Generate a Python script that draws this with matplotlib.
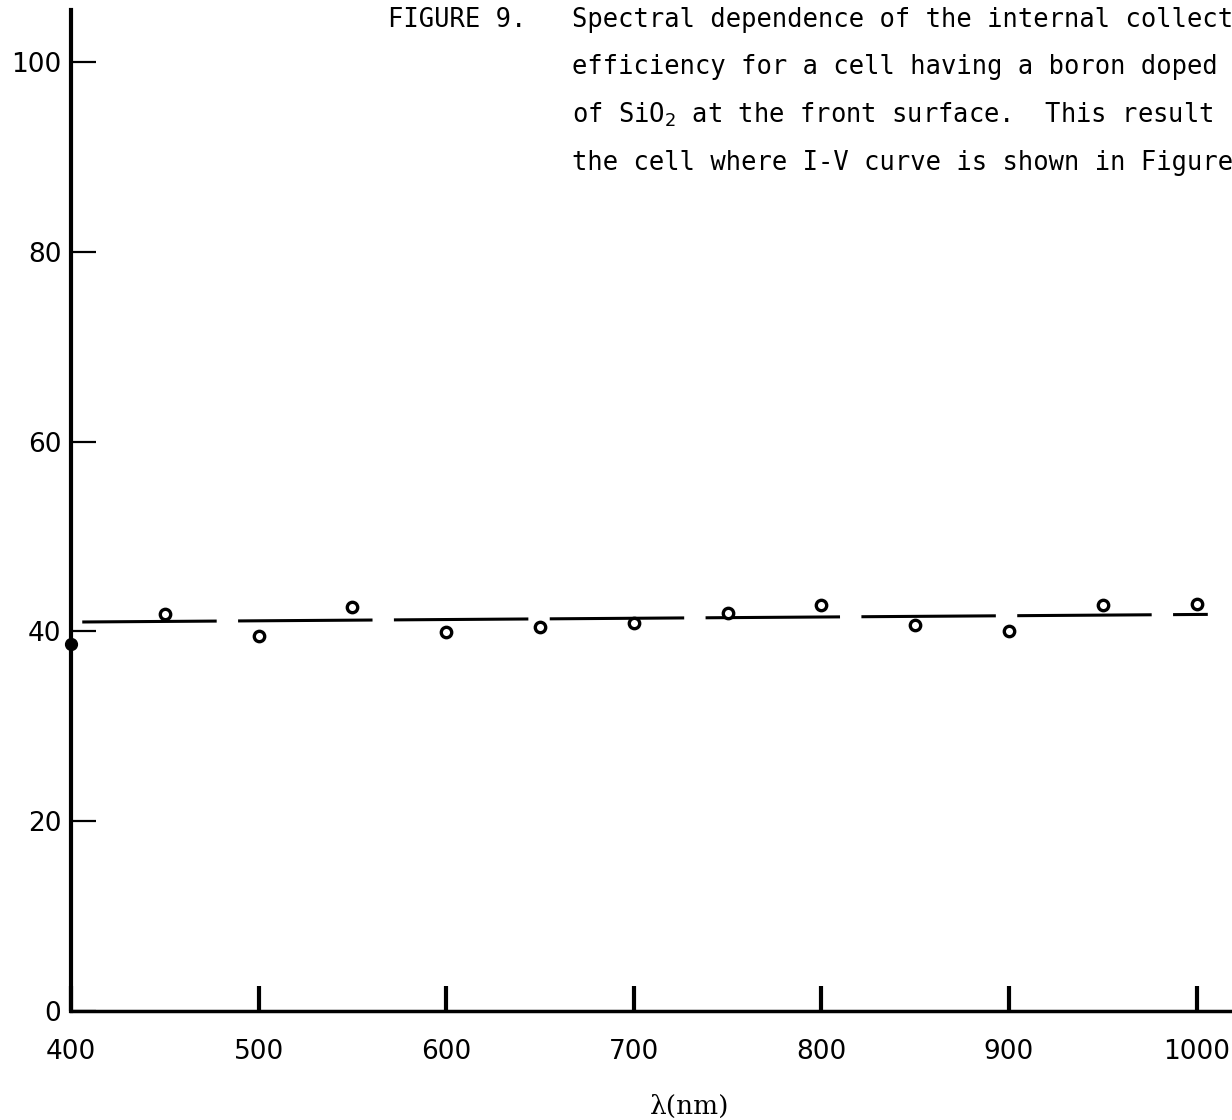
import matplotlib
matplotlib.use("Agg")
import matplotlib.pyplot as plt

# measured points (circles), wavelength in nm vs internal collection efficiency %
wl = [450, 500, 550, 600, 650, 700, 750, 800, 850, 900, 950, 1000]
eff = [41.8, 39.5, 42.6, 39.9, 40.5, 40.9, 41.9, 42.8, 40.7, 40.0, 42.8, 42.9]

# dashed average line
fit_x = [406, 1006]
fit_y = [41.0, 41.8]

# filled dot on the axis
dot_x = [400]
dot_y = [38.7]

xticks = [400, 500, 600, 700, 800, 900, 1000]
yticks = [0, 20, 40, 60, 80, 100]

# caption as far as it is visible in the scan (cut at the right edge)
caption = ["Spectral dependence of the internal collect",
           "efficiency for a cell having a boron doped",
           "of SiO$_2$ at the front surface.  This result",
           "the cell where I-V curve is shown in Figure"]

fig = plt.figure(figsize=(12.32, 11.2), dpi=100)
ax = fig.add_axes([71 / 1232, 109 / 1120, 1 - 71 / 1232, 1001 / 1120])

ax.plot(fit_x, fit_y, color="black", linewidth=2.2,
        linestyle=(0, (44, 7)), solid_capstyle="butt")
ax.plot(wl, eff, linestyle="none", marker="o", markersize=7.5,
        markerfacecolor="white", markeredgecolor="black", markeredgewidth=2.4,
        clip_on=False)
ax.plot(dot_x, dot_y, linestyle="none", marker="o", markersize=8.5,
        color="black", clip_on=False, zorder=5)

ax.set_xlim(400, 1018.9)
ax.set_ylim(0, 105.5)
ax.set_xticks(xticks)
ax.set_yticks(yticks)

for s in ["top", "right"]:
    ax.spines[s].set_visible(False)
ax.spines["left"].set_linewidth(3)
ax.spines["bottom"].set_linewidth(2.5)

ax.tick_params(axis="x", direction="in", length=18, width=3, pad=20,
               labelsize=19)
ax.tick_params(axis="y", direction="in", length=18, width=1.6, pad=7,
               labelsize=19)

fig.text(388 / 1232, 1 - 20 / 1120, "FIGURE 9.", family="DejaVu Sans Mono",
         fontsize=18.4, va="center", ha="left")
for i, line in enumerate(caption):
    fig.text(572 / 1232, 1 - (20 + 47.5 * i) / 1120, line,
             family="DejaVu Sans Mono", fontsize=18.4, va="center", ha="left")

fig.text(690 / 1232, 1 - 1106 / 1120, "λ(nm)", family="DejaVu Serif",
         fontsize=19, ha="center", va="center")

fig.savefig("out.png", dpi=100)
